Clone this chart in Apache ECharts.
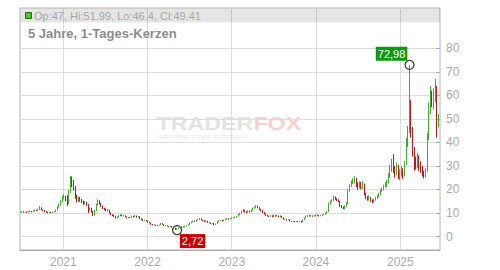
<!DOCTYPE html>
<html>
<head>
<meta charset="utf-8">
<style>
  html, body { margin: 0; padding: 0; background: #fff; }
  #chart { width: 500px; height: 270px; }
</style>
<script src="https://cdn.jsdelivr.net/npm/echarts@6.0.0/dist/echarts.min.js"></script>
</head>
<body>
<div id="chart"></div>
<script>
// ---- Data (weekly-ish candles) ----
const firstWeekUTC = Date.UTC(2020, 5, 29);   // first candle date
const axisStart = Date.UTC(2020, 5, 27);
const axisEnd = Date.UTC(2025, 5, 22);

const opens = [
  10.2,10.4,10.6,10.3,10.5,10.2,10.6,10.8,10.5,10.9,
  11.2,11.0,11.5,12.2,11.3,11.0,10.6,10.3,10.0,10.2,
  10.1,10.3,10.4,11.2,12.5,13.5,15.0,16.5,17.0,15.5,
  14.0,19.0,25.0,22.0,21.0,17.0,15.0,16.5,15.5,15.0,
  14.0,14.5,13.5,11.0,12.0,10.5,9.0,11.0,13.5,15.0,
  14.0,13.0,12.0,11.5,11.0,11.3,10.0,9.2,9.0,8.6,
  7.8,8.3,8.8,9.2,8.8,8.9,8.4,7.9,8.1,8.0,
  8.6,8.3,8.8,8.2,8.5,7.6,7.2,6.8,6.9,6.6,
  6.2,5.8,5.2,4.9,5.0,4.8,4.7,4.9,5.6,5.1,
  4.6,4.7,4.3,4.1,4.4,4.0,3.6,3.0,3.3,3.5,
  3.8,4.2,4.0,4.4,4.6,5.0,5.8,6.2,6.6,6.4,
  7.0,7.2,7.6,7.1,6.7,6.4,6.6,6.0,5.8,5.5,
  5.6,5.0,5.3,6.2,6.7,6.9,6.6,7.0,7.4,7.6,
  7.3,7.6,7.9,8.0,8.2,8.6,9.3,9.8,10.6,11.2,
  10.5,10.2,10.8,10.4,11.2,12.0,12.4,13.0,12.3,11.5,
  11.0,10.2,9.5,9.0,8.7,8.5,8.8,8.4,9.0,8.6,
  8.8,8.3,8.7,7.9,7.3,7.4,7.0,7.2,6.6,6.4,
  6.5,6.3,6.4,6.3,6.5,6.1,7.0,7.9,8.6,8.8,
  8.7,8.9,8.6,8.8,9.1,9.0,8.7,9.0,9.2,9.4,
  9.9,10.5,14.0,14.8,15.2,16.8,16.0,15.5,15.0,13.0,
  12.5,12.0,12.8,14.0,19.5,21.5,23.0,24.0,24.5,22.0,
  21.5,22.5,21.0,22.0,18.0,16.5,16.0,16.5,15.5,14.8,
  15.5,16.5,17.0,18.0,19.5,20.0,21.5,22.5,23.0,26.0,
  29.0,31.0,29.0,27.0,30.0,26.0,27.0,28.5,26.0,31.0,
  40.0,45.0,57.0,46.0,36.0,33.0,30.0,34.0,31.0,29.0,
  27.0,25.5,28.0,42.0,55.0,60.0,58.0,60.0,62.0,47
];
const closes = [
  10.4,10.6,10.3,10.5,10.2,10.6,10.8,10.5,10.9,11.2,
  11.0,11.5,12.2,11.3,11.0,10.6,10.3,10.0,10.2,10.1,
  10.3,10.4,11.2,12.5,13.5,15.0,16.5,17.0,15.5,14.0,
  19.0,25.0,22.0,21.0,17.0,15.0,16.5,15.5,15.0,14.0,
  14.5,13.5,11.0,12.0,10.5,9.0,11.0,13.5,15.0,14.0,
  13.0,12.0,11.5,11.0,11.3,10.0,9.2,9.0,8.6,7.8,
  8.3,8.8,9.2,8.8,8.9,8.4,7.9,8.1,8.0,8.6,
  8.3,8.8,8.2,8.5,7.6,7.2,6.8,6.9,6.6,6.2,
  5.8,5.2,4.9,5.0,4.8,4.7,4.9,5.6,5.1,4.6,
  4.7,4.3,4.1,4.4,4.0,3.6,3.0,3.3,3.5,3.8,
  4.2,4.0,4.4,4.6,5.0,5.8,6.2,6.6,6.4,7.0,
  7.2,7.6,7.1,6.7,6.4,6.6,6.0,5.8,5.5,5.6,
  5.0,5.3,6.2,6.7,6.9,6.6,7.0,7.4,7.6,7.3,
  7.6,7.9,8.0,8.2,8.6,9.3,9.8,10.6,11.2,10.5,
  10.2,10.8,10.4,11.2,12.0,12.4,13.0,12.3,11.5,11.0,
  10.2,9.5,9.0,8.7,8.5,8.8,8.4,9.0,8.6,8.8,
  8.3,8.7,7.9,7.3,7.4,7.0,7.2,6.6,6.4,6.5,
  6.3,6.4,6.3,6.5,6.1,7.0,7.9,8.6,8.8,8.7,
  8.9,8.6,8.8,9.1,9.0,8.7,9.0,9.2,9.4,9.9,
  10.5,14.0,14.8,15.2,16.8,16.0,15.5,15.0,13.0,12.5,
  12.0,12.8,14.0,19.5,21.5,23.0,24.0,24.5,22.0,21.5,
  22.5,21.0,22.0,18.0,16.5,16.0,16.5,15.5,14.8,15.5,
  16.5,17.0,18.0,19.5,20.0,21.5,22.5,23.0,26.0,29.0,
  31.0,29.0,27.0,30.0,26.0,27.0,28.5,26.0,31.0,40.0,
  45.0,66.0,46.0,36.0,33.0,30.0,34.0,31.0,29.0,27.0,
  25.5,28.0,42.0,55.0,60.0,58.0,60.0,62.0,44.0,49.41
];
const lows = [
  10.0,10.2,10.1,10.2,10.0,10.1,10.4,10.3,10.4,10.7,
  10.8,10.9,11.3,11.1,10.8,10.4,10.1,9.8,9.9,9.9,
  10.0,10.2,10.3,11.0,12.2,13.2,14.6,15.8,15.0,13.0,
  13.8,18.5,21.0,19.5,16.0,14.5,14.6,14.8,14.2,13.5,
  13.6,13.0,10.0,10.8,10.2,8.7,8.9,10.8,13.2,13.6,
  12.6,11.7,11.1,10.7,10.6,9.8,9.0,8.7,8.3,7.6,
  7.7,8.1,8.6,8.6,8.5,8.2,7.7,7.8,7.8,7.9,
  8.1,8.2,8.0,8.0,7.4,7.0,6.6,6.6,6.4,6.0,
  5.6,5.0,4.7,4.7,4.6,4.5,4.6,4.8,5.0,4.5,
  4.4,4.2,3.9,4.0,3.8,3.4,2.8,2.72,3.1,3.4,
  3.7,3.8,3.9,4.2,4.5,4.9,5.6,6.0,6.2,6.3,
  6.8,7.0,6.9,6.5,6.2,6.2,5.8,5.6,5.3,5.3,
  4.8,4.9,5.2,6.0,6.5,6.4,6.5,6.9,7.2,7.1,
  7.2,7.5,7.7,7.8,8.0,8.5,9.1,9.7,10.4,10.2,
  9.9,10.1,10.2,10.3,11.0,11.8,12.2,12.0,11.2,10.7,
  10.0,9.3,8.8,8.5,8.3,8.4,8.2,8.3,8.4,8.4,
  8.1,8.2,7.7,7.1,7.1,6.8,6.9,6.4,6.2,6.2,
  6.1,6.1,6.1,6.2,5.9,6.0,6.9,7.8,8.4,8.5,
  8.5,8.4,8.4,8.6,8.8,8.5,8.6,8.8,9.0,9.3,
  9.8,10.4,13.6,14.4,15.0,15.6,15.0,14.6,12.6,12.0,
  11.6,11.5,12.5,13.8,19.0,21.0,22.3,22.5,21.0,19.8,
  20.5,20.0,20.2,17.5,15.8,15.2,15.3,14.8,14.2,14.4,
  15.2,16.0,16.6,17.6,18.8,19.6,20.8,21.0,22.5,25.0,
  27.5,27.0,25.0,26.0,24.5,24.0,25.5,24.5,25.5,30.5,
  38.0,44.0,42.0,34.0,28.0,28.5,29.0,28.0,27.0,25.5,
  24.7,25.0,27.5,41.0,52.0,55.0,54.0,57.0,42.0,46.4
];
const highs = [
  10.6,10.8,10.7,10.7,10.6,10.8,11.0,10.9,11.1,11.5,
  11.4,11.8,12.9,12.4,11.5,11.2,10.8,10.5,10.4,10.4,
  10.5,10.7,11.5,12.9,14.0,15.6,17.2,18.0,17.4,17.5,
  19.8,25.8,25.5,24.0,21.5,17.8,17.0,16.8,15.9,15.3,
  15.0,14.8,13.8,12.4,12.2,10.8,11.3,13.9,15.8,15.4,
  14.3,13.2,12.3,11.9,11.6,11.4,10.2,9.5,9.2,8.8,
  8.5,9.0,9.5,9.4,9.1,9.0,8.5,8.3,8.3,8.9,
  8.8,9.2,8.9,8.7,8.6,7.8,7.3,7.1,7.0,6.8,
  6.3,5.9,5.3,5.2,5.1,5.0,5.1,5.8,5.7,5.2,
  4.9,4.8,4.4,4.6,4.5,4.1,3.7,3.5,3.7,4.0,
  4.4,4.3,4.6,4.8,5.2,6.0,6.4,6.8,6.8,7.2,
  7.5,7.9,7.7,7.2,6.9,6.8,6.7,6.1,5.9,5.8,
  5.7,5.5,6.4,6.9,7.1,7.0,7.2,7.6,7.9,7.7,
  7.8,8.1,8.2,8.4,8.8,9.6,10.1,11.0,11.8,11.3,
  10.7,11.1,11.0,11.5,12.3,12.8,13.3,13.2,12.5,11.7,
  11.2,10.4,9.7,9.2,8.9,9.1,9.0,9.3,9.1,9.2,
  8.9,9.0,8.8,8.0,7.6,7.5,7.4,7.3,6.7,6.7,
  6.6,6.6,6.5,6.7,6.6,7.2,8.1,8.9,9.1,9.0,
  9.2,9.0,9.1,9.4,9.3,9.1,9.2,9.5,9.7,10.2,
  10.8,14.4,15.3,15.8,17.4,17.0,16.3,15.8,15.2,13.4,
  12.8,13.2,14.5,20.2,22.3,23.8,24.8,25.8,24.8,23.0,
  23.5,23.2,23.5,22.5,18.5,17.2,17.5,16.8,15.8,16.0,
  16.9,17.6,18.5,20.0,20.8,22.0,23.2,24.0,27.0,30.5,
  33.0,35.0,30.0,31.5,30.5,28.5,30.0,29.0,32.0,42.0,
  47.0,72.98,58.0,46.5,38.0,34.0,35.5,34.5,32.0,30.0,
  28.0,29.0,44.0,57.0,64.0,62.0,63.0,67.0,64.0,51.99
];
const titleText = '5 Jahre, 1-Tages-Kerzen';
const yMin = 0, yMax = 80, yStep = 10;

// ---- Build ----
const DAY = 86400000;
const dates = opens.map((_, i) => firstWeekUTC + i * 7 * DAY);
const candles = dates.map((d, i) => [d, opens[i], closes[i], lows[i], highs[i]]);
const last = opens.length - 1;
const headerText = 'Op:' + opens[last] + ', Hi:' + highs[last] + ', Lo:' + lows[last] + ', Cl:' + closes[last];

const FONT = '"Liberation Sans", Arial, sans-serif';
const UP = '#3fae2c';
const DOWN = '#c01616';

const chart = echarts.init(document.getElementById('chart'), null, { renderer: 'svg' });
chart.setOption({
  animation: false,
  useUTC: true,
  backgroundColor: '#fff',
  textStyle: { fontFamily: FONT },
  grid: [
    { left: 20, right: 60, top: 8, bottom: 20, show: true, borderColor: '#b4b4b4', borderWidth: 1, backgroundColor: 'transparent' },
    { left: 20, right: 60, top: 48.3, bottom: 33.5 }
  ],
  xAxis: [
    {
      gridIndex: 0, type: 'time', min: axisStart, max: axisEnd,
      minInterval: 364 * DAY, maxInterval: 367 * DAY,
      axisLine: { show: true, lineStyle: { color: '#aaa' } },
      axisTick: { show: false },
      axisLabel: { formatter: '{yyyy}', color: '#aaa', fontSize: 12, margin: 6, fontFamily: FONT, showMinLabel: false, showMaxLabel: false },
      splitLine: { show: true, showMinLine: false, showMaxLine: false, lineStyle: { color: '#dcdcdc' } }
    },
    { gridIndex: 1, type: 'time', min: axisStart, max: axisEnd, show: false }
  ],
  yAxis: [
    { gridIndex: 0, type: 'value', min: 0, max: 1, show: false },
    {
      gridIndex: 1, type: 'value', position: 'right', min: yMin, max: yMax, interval: yStep,
      axisLine: { show: false },
      axisTick: { show: true, inside: true, length: 4, lineStyle: { color: '#aaa' } },
      axisLabel: { color: '#aaa', fontSize: 12, margin: 6, fontFamily: FONT },
      splitLine: { show: true, lineStyle: { color: '#dcdcdc' } }
    }
  ],
  graphic: [
    { type: 'rect', z: 1, silent: true, shape: { x: 20.5, y: 8.5, width: 419.5, height: 14 }, style: { fill: 'rgba(0,0,0,0.1)' } },
    { type: 'rect', z: 5, silent: true, shape: { x: 25.5, y: 12.5, width: 6, height: 6 }, style: { fill: '#44cc22', stroke: '#2a6a1a', lineWidth: 1 } },
    { type: 'text', z: 5, silent: true, x: 34, y: 15.8, style: { text: headerText, fill: '#a6a6a6', font: '11px ' + FONT, textVerticalAlign: 'middle' } },
    { type: 'text', z: 5, silent: true, x: 28, y: 33.5, style: { text: titleText, fill: '#8c8c8c', font: 'bold 13px ' + FONT, textVerticalAlign: 'middle' } },
    {
      type: 'group', z: 0, silent: true, x: 156.5, y: 123.3, scaleX: 1.25,
      children: [
        { type: 'text', z: 0, style: { text: 'TRADER', fill: '#e3e3e3', font: 'bold 18.6px ' + FONT, textVerticalAlign: 'middle' } },
        { type: 'text', z: 0, x: 77.5, style: { text: 'FOX', fill: '#f7cfcf', font: 'bold 18.6px ' + FONT, textVerticalAlign: 'middle' } }
      ]
    },
    { type: 'text', z: 0, silent: true, x: 204, y: 136.8, style: { text: 'REALTIME STOCK SCREENING', fill: '#ececec', font: 'bold 6px ' + FONT, textAlign: 'center', textVerticalAlign: 'middle' } }
  ],
  series: [
    {
      type: 'candlestick',
      xAxisIndex: 1, yAxisIndex: 1,
      dimensions: ['date', 'open', 'close', 'lowest', 'highest'],
      encode: { x: 'date', y: ['open', 'close', 'lowest', 'highest'] },
      data: candles,
      itemStyle: { color: UP, color0: DOWN, borderColor: UP, borderColor0: DOWN, borderWidth: 1 },
      markPoint: {
        symbol: 'circle', symbolSize: 9,
        itemStyle: { color: 'rgba(255,255,255,0)', borderColor: '#333', borderWidth: 1.2 },
        label: {
          show: true, position: 'inside', color: '#fff', fontSize: 11, fontFamily: FONT,
          padding: [2, 2, 1, 2], lineHeight: 11,
          formatter: p => Number(p.value).toFixed(2).replace('.', ',')
        },
        data: [
          { type: 'max', valueDim: 'highest', label: { offset: [-18, -11], backgroundColor: '#0f990f' } },
          { type: 'min', valueDim: 'lowest', label: { offset: [15.5, 11], backgroundColor: '#cc0000' } }
        ]
      }
    }
  ]
});
</script>
</body>
</html>
